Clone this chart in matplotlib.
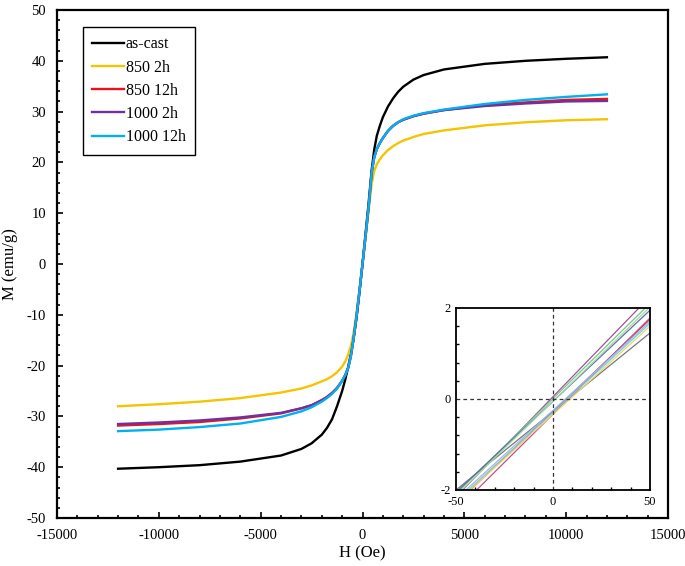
import matplotlib
matplotlib.use("Agg")
import matplotlib.pyplot as plt
from matplotlib.ticker import MultipleLocator

plt.rcParams["font.family"] = ["Liberation Serif", "DejaVu Serif"]
plt.rcParams["axes.unicode_minus"] = False

# field points (Oe)
H = [-12000, -10000, -8000, -6000, -4000, -3000, -2500, -2000, -1750, -1500, -1250, -1000, -850,
     -700, -575, -450, -300, -150, 0, 150, 300, 450, 575, 700, 850, 1000, 1250, 1500, 1750,
     2000, 2500, 3000, 4000, 6000, 8000, 10000, 12000]

# magnetisation (emu/g)
m_ascast = [-40.3, -40.0, -39.6, -38.9, -37.7, -36.4, -35.3, -33.6, -32.3, -30.6, -28.0, -25.0, -22.8,
            -20.2, -17.8, -15.0, -10.8, -5.6, 0.0, 6.0, 12.0, 18.5, 22.5, 25.2, 27.2, 28.9, 31.0, 32.6, 33.9,
            34.9, 36.3, 37.2, 38.3, 39.4, 40.0, 40.4, 40.7]
m_850_2h = [-28.0, -27.6, -27.1, -26.4, -25.3, -24.5, -23.9, -23.1, -22.7, -22.1, -21.3, -20.2, -19.2,
            -17.8, -16.2, -13.8, -9.8, -5.0, 0.0, 5.2, 10.5, 15.8, 18.3, 19.6, 20.6, 21.4, 22.4, 23.2, 23.8,
            24.3, 25.0, 25.6, 26.3, 27.3, 27.9, 28.3, 28.5]
m_850_12h = [-31.8, -31.5, -31.1, -30.4, -29.4, -28.4, -27.8, -26.8, -26.2, -25.4, -24.4, -23.0, -21.9,
             -20.4, -18.2, -15.0, -10.5, -5.4, 0.0, 5.5, 11.2, 18.0, 21.0, 22.6, 23.8, 24.8, 26.2, 27.2, 27.9,
             28.4, 29.1, 29.6, 30.3, 31.3, 31.8, 32.3, 32.5]
m_1000_2h = [-31.5, -31.2, -30.8, -30.2, -29.3, -28.4, -27.8, -26.8, -26.2, -25.4, -24.4, -23.0, -21.9,
             -20.4, -18.2, -15.0, -10.5, -5.4, 0.0, 5.5, 11.2, 18.0, 21.0, 22.6, 23.8, 24.8, 26.2, 27.2, 27.9,
             28.4, 29.1, 29.6, 30.3, 31.1, 31.6, 32.0, 32.1]
m_1000_12h = [-32.9, -32.6, -32.1, -31.4, -30.1, -29.0, -28.2, -27.1, -26.4, -25.6, -24.5, -23.0, -21.9,
              -20.4, -18.2, -15.0, -10.5, -5.4, 0.0, 5.5, 11.2, 18.0, 21.0, 22.6, 23.8, 24.8, 26.2, 27.2, 27.9,
              28.5, 29.2, 29.7, 30.4, 31.5, 32.3, 32.9, 33.4]

labels = ["as-cast", "850 2h", "850 12h", "1000 2h", "1000 12h"]
colors = ["#000000", "#f5c400", "#e8141c", "#7030a0", "#00b0f0"]
series = [m_ascast, m_850_2h, m_850_12h, m_1000_2h, m_1000_12h]

# inset: low-field branches, M at H = -50 and H = 50
inset_h = [-50, 50]
inset_m = [
    [-2.15, 2.25], [-2.08, 2.10], [-2.00, 1.45], [-2.05, 1.95], [-2.12, 2.02],
    [-2.30, 1.75], [-2.45, 1.78], [-2.25, 1.66], [-2.28, 1.60], [-2.20, 1.70],
]
inset_colors = ["#a0529a", "#7cc48e", "#777777", "#5b6fb5", "#a8d8a0",
                "#d23a4a", "#c2508a", "#6fd0e6", "#f1d36a", "#9fb8e0"]

fig = plt.figure(figsize=(6.85, 5.66), dpi=100)
ax = fig.add_axes([0.0832, 0.0848, 0.892, 0.8975])

for m, c, lab in zip(series, colors, labels):
    ax.plot(H, m, color=c, lw=1.7, label=lab)

ax.set_xlim(-15000, 15000)
ax.set_ylim(-50, 50)
ax.xaxis.set_major_locator(MultipleLocator(5000))
ax.xaxis.set_minor_locator(MultipleLocator(1000))
ax.yaxis.set_major_locator(MultipleLocator(10))
ax.yaxis.set_minor_locator(MultipleLocator(2))
ax.tick_params(which="both", direction="in", labelsize=10.5, width=1.2)
ax.tick_params(which="major", length=4, pad=8)
ax.tick_params(which="minor", length=2.5)
for s in ax.spines.values():
    s.set_linewidth(1.6)
ax.set_xlabel("H (Oe)", fontsize=12, labelpad=2)
ax.set_ylabel("M (emu/g)", fontsize=12, labelpad=6)

leg = ax.legend(loc="upper left", bbox_to_anchor=(0.042, 0.967), fontsize=11.5,
                frameon=True, fancybox=False, edgecolor="black", framealpha=1,
                handlelength=2.0, handletextpad=0.1, labelspacing=0.45,
                borderpad=0.6, borderaxespad=0)
leg.get_frame().set_linewidth(1.0)

ins = fig.add_axes([0.6657, 0.1343, 0.2832, 0.3216])
ins.set_facecolor("white")
for m, c in zip(inset_m, inset_colors):
    ins.plot(inset_h, m, color=c, lw=0.9)
ins.axhline(0, color="#333333", lw=0.9, ls=(0, (3, 2.5)))
ins.axvline(0, color="#333333", lw=0.9, ls=(0, (3, 2.5)))
ins.set_xlim(-50, 50)
ins.set_ylim(-2, 2)
ins.set_xticks([-50, 0, 50])
ins.set_yticks([-2, 0, 2])
ins.xaxis.set_minor_locator(MultipleLocator(10))
ins.yaxis.set_minor_locator(MultipleLocator(0.4))
ins.tick_params(which="both", direction="in", labelsize=9, width=1.0, pad=4)
ins.tick_params(which="major", length=0)
ins.tick_params(which="minor", length=2.5)
for s in ins.spines.values():
    s.set_linewidth(1.3)

fig.savefig("out.png", dpi=100)
